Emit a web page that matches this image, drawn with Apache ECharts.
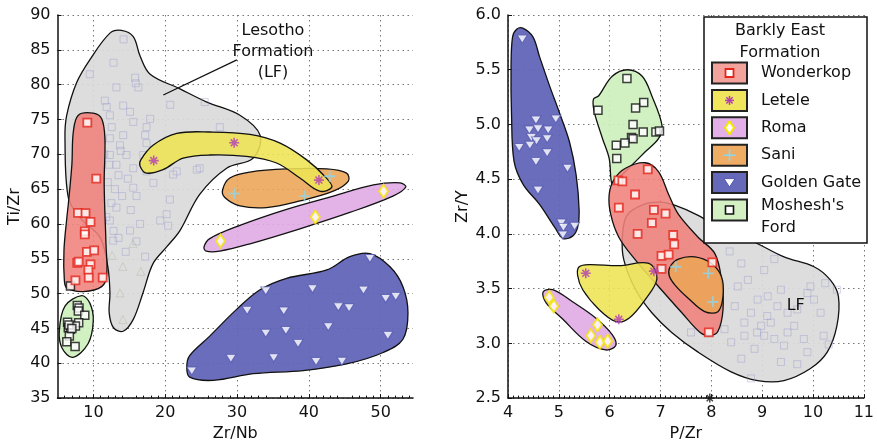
<!DOCTYPE html>
<html><head><meta charset="utf-8">
<script src="https://cdn.jsdelivr.net/npm/echarts@6/dist/echarts.min.js"></script>
<style>html,body{margin:0;padding:0;background:#fff}#c{width:877px;height:447px}</style>
</head><body><div id="c"></div>
<script>
// ---------------- DATA: left panel (Zr/Nb vs Ti/Zr) ----------------
const leftXTicks = [10, 20, 30, 40, 50];
const wonderkopL = [[9.15,74.55],[10.4,66.5],[7.85,61.6],[8.9,61.55],[9.6,60.3],[8.8,58.95],[8.8,58.5],[9.1,56.0],[10.1,56.2],[7.75,54.4],[7.95,54.6],[9.6,54.2],[9.3,53.4],[9.35,52.3],[7.5,51.9],[11.3,52.3]];
const moshL = [[6.8,51.1],[7.75,48.3],[8.0,47.95],[7.9,47.5],[8.8,46.9],[6.4,45.9],[7.95,45.8],[7.5,45.35],[6.5,45.1],[6.8,44.9],[6.65,43.9],[6.3,43.1],[7.45,42.4],[6.6,45.5],[7.0,45.0]];
const leteleL = [[18.4,69.1],[29.6,71.65],[41.4,66.3]];
const saniL = [[29.6,64.35],[39.4,64.0],[42.9,66.85]];
const romaL = [[27.7,57.55],[40.9,61.0],[50.4,64.7]];
const goldenGateL = [[23.7,38.9],[29.15,40.7],[35.1,40.8],[41.0,40.25],[44.6,40.3],[34.0,44.3],[36.8,44.7],[38.5,42.85],[42.7,45.25],[51.0,44.0],[31.4,47.6],[36.5,47.5],[44.1,48.1],[45.6,47.95],[34.0,50.4],[40.5,50.7],[47.6,50.5],[50.7,49.3],[52.1,49.6],[48.5,55.05]];
const lfPointsL = [[14.2,86.5],[12.8,83.15],[15.8,81.0],[15.9,80.2],[13.2,79.6],[16.25,79.6],[20.7,77.1],[25.5,77.5],[27.6,73.9],[11.6,77.7],[11.85,76.8],[14.15,77.0],[15.1,76.1],[12.3,75.6],[15.55,74.65],[17.9,75.1],[17.4,73.9],[12.55,73.9],[14.15,72.75],[17.2,72.75],[12.3,72.3],[13.7,71.3],[17.4,71.6],[12.3,69.9],[14.6,69.9],[16.95,69.9],[13.2,68.5],[15.55,68.0],[17.4,67.55],[21.6,67.55],[24.8,68.0],[18.35,65.9],[20.65,63.5],[20.2,61.4],[20.4,59.75],[19.3,60.5],[17.2,55.3],[12.75,57.6],[12.3,60.5],[15.1,59.05],[13.2,62.35],[15.55,65.2],[21.1,67.1],[24.4,67.8],[11.5,70],[12,66],[11,64],[12.5,63],[13,65],[11.8,61],[12.8,59],[13.5,58],[11,67],[14,64],[13.5,67],[12.2,68.5],[11.2,72],[13.8,70.5],[14.8,66.5],[15.2,62],[16,64],[16.5,60],[14.5,56],[16,57.5],[9.5,81.5]];
const lfTrianglesL = [[14.1,53.9],[13.7,50.1],[14.1,46.3],[16.6,53.2],[12.6,55.5],[15.5,57.2]];

// field outlines (data space vertices)
const lfFieldL = [[6.04,72.3],[6.28,75.6],[7.67,80.3],[9.52,83.6],[12.3,87.4],[13.9,87.8],[15.55,86.9],[16.5,84.1],[17.9,81.5],[22.05,79.4],[25.8,77.5],[30.4,75.6],[33.2,72.75],[32.25,69.45],[28.55,68.0],[24.8,64.25],[22.05,59.05],[20.2,56.7],[18.3,54.3],[16.9,50.1],[15.55,46.3],[14.15,44.6],[12.8,45.1],[12.2,47.2],[12.3,50.1],[12.0,53.9],[10.9,58.1],[8.1,60.9],[6.5,63.8]];
const wonderkopFieldL = [[7.9,75.6],[9.98,75.9],[11.15,75.1],[11.6,72.3],[11.5,65.7],[11.75,57.15],[11.85,52.7],[11.15,51.0],[8.6,50.3],[6.3,50.8],[5.95,52.0],[5.9,56.2],[6.3,60.9],[6.5,62.8],[7.0,68.5],[7.2,73.2]];
const moshFieldL = [[8.37,49.7],[9.52,48.6],[9.98,46.05],[9.25,42.8],[7.12,40.85],[5.63,42.2],[5.25,44.6],[6.04,48.2]];
const leteleFieldL = [[16.6,69.2],[18.3,71.3],[21.6,73.0],[26.2,73.2],[31.8,72.85],[36.0,71.6],[39.7,69.2],[42.2,66.85],[43.2,65.3],[41.5,64.7],[38.75,66.6],[35.5,68.75],[31.3,69.7],[26.2,69.9],[22.5,69.45],[19.7,67.8],[17.4,67.3],[16.5,68.3]];
const saniFieldL = [[28.0,64.95],[29.0,66.6],[31.8,67.45],[36.9,67.9],[42.5,67.9],[45.25,67.3],[45.5,66.15],[43.4,64.7],[38.75,63.3],[34.1,62.35],[30.4,62.6],[28.3,63.8]];
const romaFieldL = [[25.4,56.7],[26.2,57.9],[30.4,59.8],[36.9,62.1],[43.4,64.0],[49.0,65.6],[52.7,65.9],[53.5,65.3],[51.7,64.0],[45.7,61.65],[38.75,59.3],[31.8,57.15],[27.6,56.1],[25.7,56.1]];
const goldenGateFieldL = [[23.0,39.45],[23.4,38.0],[26.7,37.55],[32.25,38.5],[39.2,38.95],[45.25,39.9],[50.35,41.55],[53.1,43.45],[53.8,47.25],[53.1,51.0],[51.3,53.85],[48.5,55.75],[45.7,55.3],[42.5,53.4],[36.9,52.2],[33.2,50.55],[29.9,47.7],[26.2,43.9],[23.4,41.1]];
const lfLeaderL = [[19.73,78.52],[29.98,83.55]];
const lfLabelL = { pos: [35.0, 84.7], text: 'Lesotho\nFormation\n(LF)' };

// ---------------- DATA: right panel (P/Zr vs Zr/Y) ----------------
const wonderkopR = [[6.75,4.59],[6.17,4.49],[6.25,4.48],[6.50,4.36],[6.18,4.24],[6.87,4.22],[7.10,4.185],[6.83,4.10],[6.55,4.00],[7.25,3.99],[7.27,3.905],[7.02,3.80],[7.16,3.81],[7.02,3.68],[8.02,3.74],[7.95,3.10]];
const moshR = [[6.34,5.42],[5.77,5.13],[6.67,5.20],[6.51,5.15],[6.46,5.00],[6.66,4.93],[6.43,4.88],[6.46,4.87],[6.30,4.83],[6.13,4.81],[6.91,4.93],[6.98,4.94],[6.14,4.69]];
const leteleR = [[5.53,3.64],[6.87,3.66],[6.18,3.22]];
const saniR = [[7.30,3.70],[7.94,3.64],[8.03,3.38]];
const romaR = [[4.81,3.42],[4.90,3.34],[5.76,3.17],[5.63,3.07],[5.81,3.01],[5.96,3.02]];
const goldenGateR = [[4.28,5.78],[4.55,5.04],[4.94,5.05],[4.42,4.95],[4.59,4.96],[4.79,4.95],[4.46,4.88],[4.56,4.85],[4.77,4.87],[4.22,4.79],[4.43,4.81],[4.77,4.74],[4.55,4.66],[5.17,4.60],[4.59,4.40],[5.05,4.10],[5.09,4.06],[5.08,3.99],[5.31,4.07]];
const lfPointsR = [[8.36,3.84],[8.59,3.73],[9.04,3.67],[9.24,3.77],[9.37,3.49],[9.95,3.52],[10.24,3.55],[10.47,3.49],[10.15,3.28],[10.21,3.07],[10.31,2.99],[9.89,2.92],[9.69,2.81],[9.37,2.83],[8.78,2.68],[8.59,2.86],[8.39,3.01],[8.26,3.13],[8.46,3.34],[8.78,3.28],[8.98,3.16],[9.17,3.19],[9.04,3.07],[9.24,3.04],[9.5,3.10],[9.63,3.16],[9.82,3.04],[9.43,2.98],[8.85,2.95],[8.65,3.07],[8.91,3.40],[9.11,3.43],[9.30,3.34],[9.5,3.28],[9.69,3.31],[8.65,3.19],[8.52,3.52],[8.72,3.58],[9.89,3.46],[10.02,3.40],[7.5,3.9],[7.8,3.3],[7.6,3.1],[8.1,3.2],[9.1,3.25],[8.9,3.1]];
const offScaleR = [[7.97,2.5]];
const lfFieldR = [[7.29,4.26],[7.74,4.17],[8.26,4.03],[8.78,3.94],[9.43,3.79],[10.02,3.70],[10.34,3.58],[10.50,3.43],[10.47,3.16],[10.28,2.92],[9.95,2.77],[9.43,2.66],[8.91,2.66],[8.39,2.74],[7.74,2.92],[7.22,3.10],[6.83,3.28],[6.51,3.49],[6.28,3.76],[6.25,3.97],[6.34,4.17],[6.67,4.27],[7.00,4.29]];
const wonderkopFieldR = [[5.99,4.36],[6.09,4.50],[6.31,4.60],[6.70,4.65],[6.96,4.57],[7.16,4.36],[7.35,4.18],[7.74,3.97],[8.07,3.82],[8.20,3.58],[8.23,3.31],[8.13,3.11],[7.97,3.07],[7.78,3.10],[7.42,3.28],[6.96,3.52],[6.51,3.76],[6.18,3.97],[6.02,4.18]];
const moshFieldR = [[5.78,5.26],[6.05,5.44],[6.35,5.50],[6.64,5.44],[6.83,5.26],[7.03,4.99],[6.96,4.87],[6.70,4.75],[6.44,4.63],[6.18,4.51],[6.05,4.45],[5.99,4.69],[5.86,4.87],[5.70,5.11],[5.68,5.23]];
const leteleFieldR = [[5.40,3.70],[5.60,3.72],[6.18,3.71],[6.77,3.73],[6.93,3.59],[6.70,3.40],[6.38,3.23],[6.12,3.20],[5.79,3.31],[5.47,3.49],[5.37,3.62]];
const saniFieldR = [[7.19,3.70],[7.35,3.77],[7.68,3.79],[8.00,3.73],[8.20,3.61],[8.23,3.43],[8.13,3.29],[7.87,3.29],[7.55,3.41],[7.29,3.53],[7.17,3.62]];
const romaFieldR = [[4.69,3.47],[4.88,3.49],[5.27,3.38],[5.73,3.23],[6.05,3.08],[6.12,2.98],[5.92,2.94],[5.53,3.02],[5.08,3.22],[4.75,3.37]];
const goldenGateFieldR = [[4.29,5.88],[4.49,5.80],[4.62,5.62],[4.82,5.35],[5.01,5.11],[5.21,4.84],[5.34,4.54],[5.40,4.21],[5.37,4.06],[5.27,3.98],[5.08,3.96],[4.92,4.06],[4.62,4.27],[4.30,4.45],[4.12,4.66],[4.07,5.08],[4.06,5.53],[4.09,5.80],[4.17,5.87]];
const lfLabelR = { pos: [9.66, 3.34], text: 'LF' };

const legendTitle = 'Barkly East\nFormation';
const legendNames = ['Wonderkop', 'Letele', 'Roma', 'Sani', 'Golden Gate', "Moshesh's\nFord"];

// ---------------- STYLE ----------------
const FONT = 'DejaVu Sans';
const INK = '#111';
const C = {
  lf: 'rgba(218,218,218,0.92)',
  wonderkop: 'rgba(240,130,124,0.88)',
  letele: 'rgba(238,228,84,0.88)',
  roma: 'rgba(224,170,228,0.9)',
  sani: 'rgba(236,164,86,0.88)',
  gg: 'rgba(98,101,184,0.95)',
  mosh: 'rgba(206,240,190,0.92)'
};
const SOLID = { wonderkop:'#f4a29c', letele:'#f0e65e', roma:'#e2b0e6', sani:'#eeac64', gg:'#6669b9', mosh:'#d2f0c2' };
const RED = '#e3261b', MAG = '#b13fb3', YEL = '#f5e600', CYAN = '#8fd6ea', BLUE = '#5458b0';
const ASTER = 'path://M0,4.2L10,4.2L10,5.8L0,5.8Z M4.2,0L5.8,0L5.8,10L4.2,10Z M1.0,2.1L2.1,1.0L9.0,7.9L7.9,9.0Z M7.9,1.0L9.0,2.1L2.1,9.0L1.0,7.9Z';
const PLUS = 'path://M4.2,0L5.8,0L5.8,4.2L10,4.2L10,5.8L5.8,5.8L5.8,10L4.2,10L4.2,5.8L0,5.8L0,4.2L4.2,4.2Z';

function field(verts, fill, gi, z) {
  return {
    type: 'custom', coordinateSystem: 'cartesian2d', xAxisIndex: gi, yAxisIndex: gi,
    data: verts, z: z, silent: true, clip: true,
    renderItem: function (params, api) {
      if (params.dataIndex !== 0) return null;
      const pts = verts.map(v => api.coord(v));
      return { type: 'polygon', shape: { points: pts, smooth: 0.35 },
        style: { fill: fill, stroke: INK, lineWidth: 1.3 } };
    }
  };
}
function pts(data, gi, sym, size, style, extra) {
  return Object.assign({
    type: 'scatter', xAxisIndex: gi, yAxisIndex: gi, data: data, symbol: sym, symbolSize: size,
    itemStyle: style, z: 5, silent: true
  }, extra || {});
}
function label(obj, gi, lh) {
  return {
    type: 'custom', coordinateSystem: 'cartesian2d', xAxisIndex: gi, yAxisIndex: gi,
    data: [obj.pos], z: 6, silent: true, clip: false,
    renderItem: function (params, api) {
      const p = api.coord(obj.pos);
      return { type: 'text', x: p[0], y: p[1], style: { text: obj.text, textAlign: 'center', textVerticalAlign: 'middle',
        fontFamily: FONT, fontSize: 16, fill: INK, lineHeight: lh } };
    }
  };
}
function leader(verts, gi) {
  return {
    type: 'custom', coordinateSystem: 'cartesian2d', xAxisIndex: gi, yAxisIndex: gi,
    data: verts, z: 6, silent: true,
    renderItem: function (params, api) {
      if (params.dataIndex !== 0) return null;
      const a = api.coord(verts[0]), b = api.coord(verts[1]);
      return { type: 'line', shape: { x1: a[0], y1: a[1], x2: b[0], y2: b[1] }, style: { stroke: INK, lineWidth: 1.3 } };
    }
  };
}

const sqRed = { color: '#fff', borderColor: RED, borderWidth: 1.8 };
const sqBlk = { color: '#fff', borderColor: INK, borderWidth: 1.5 };
const dia = { color: '#fff', borderColor: YEL, borderWidth: 2 };
const tri = { color: '#fff', borderColor: BLUE, borderWidth: 1 };
const lfSq = { color: 'rgba(0,0,0,0)', borderColor: 'rgba(140,140,205,0.45)', borderWidth: 1 };
const lfTri = { color: 'rgba(0,0,0,0)', borderColor: 'rgba(150,165,120,0.35)', borderWidth: 1 };

const axText = { fontFamily: FONT, fontSize: 16, color: INK };
const split = { show: true, lineStyle: { type: [1.5, 3.5], color: '#777', width: 1 } };
const aLine = { show: true, onZero: false, lineStyle: { color: INK, width: 1.5 } };
const aTick = { show: true, inside: true, length: 4, lineStyle: { color: INK } };

// ---------------- LEGEND (graphic) ----------------
const LG = { x: 704, y: 17, w: 163, h: 226, swX: 712, swW: 35, swH: 21, y0: 73, dy: 27.4, tx: 761 };
const graphics = [
  { type: 'rect', shape: { x: LG.x, y: LG.y, width: LG.w, height: LG.h }, style: { fill: '#fff', stroke: INK, lineWidth: 1.5 }, z: 100 },
  { type: 'text', x: 780, y: 20, style: { text: legendTitle, textAlign: 'center', textVerticalAlign: 'top', fontFamily: FONT, fontSize: 16, fill: INK, lineHeight: 22 }, z: 101 }
];
const swFill = [SOLID.wonderkop, SOLID.letele, SOLID.roma, SOLID.sani, SOLID.gg, SOLID.mosh];
legendNames.forEach((nm, i) => {
  const cy = LG.y0 + i * LG.dy, cx = LG.swX + LG.swW / 2;
  graphics.push({ type: 'rect', shape: { x: LG.swX, y: cy - LG.swH / 2, width: LG.swW, height: LG.swH }, style: { fill: swFill[i], stroke: '#222', lineWidth: 2 }, z: 101 });
  let sym;
  if (i === 0) sym = [{ type: 'rect', shape: { x: cx - 4, y: cy - 4, width: 8, height: 8 }, style: { fill: '#fff', stroke: RED, lineWidth: 1.8 } }];
  if (i === 1) sym = [0, 45, 90, 135].map(a => { const r = a * Math.PI / 180, d = 4.5; return { type: 'line', shape: { x1: cx - d * Math.cos(r), y1: cy - d * Math.sin(r), x2: cx + d * Math.cos(r), y2: cy + d * Math.sin(r) }, style: { stroke: MAG, lineWidth: 1.5 } }; });
  if (i === 2) sym = [{ type: 'polygon', shape: { points: [[cx, cy - 6.5], [cx + 4.5, cy], [cx, cy + 6.5], [cx - 4.5, cy]] }, style: { fill: '#fff', stroke: YEL, lineWidth: 2 } }];
  if (i === 3) sym = [{ type: 'line', shape: { x1: cx - 6, y1: cy, x2: cx + 6, y2: cy }, style: { stroke: CYAN, lineWidth: 1.6 } }, { type: 'line', shape: { x1: cx, y1: cy - 6, x2: cx, y2: cy + 6 }, style: { stroke: CYAN, lineWidth: 1.6 } }];
  if (i === 4) sym = [{ type: 'polygon', shape: { points: [[cx - 5.5, cy - 4], [cx + 5.5, cy - 4], [cx, cy + 4.5]] }, style: { fill: '#fff', stroke: BLUE, lineWidth: 1 } }];
  if (i === 5) sym = [{ type: 'rect', shape: { x: cx - 4, y: cy - 4, width: 8, height: 8 }, style: { fill: '#fff', stroke: INK, lineWidth: 1.6 } }];
  sym.forEach(s => { s.z = 102; graphics.push(s); });
  if (i === 5) {
    graphics.push({ type: 'text', x: LG.tx, y: cy - 15, style: { text: nm, textAlign: 'left', textVerticalAlign: 'top', fontFamily: FONT, fontSize: 16, fill: INK, lineHeight: 22 }, z: 101 });
  } else {
    graphics.push({ type: 'text', x: LG.tx, y: cy, style: { text: nm, textAlign: 'left', textVerticalAlign: 'middle', fontFamily: FONT, fontSize: 16, fill: INK }, z: 101 });
  }
});

const option = {
  animation: false,
  backgroundColor: '#fff',
  textStyle: { fontFamily: FONT },
  grid: [
    { left: 57.5, right: 464, top: 15, bottom: 44 },
    { left: 508, right: 10, top: 15, bottom: 44 }
  ],
  xAxis: [
    { gridIndex: 0, type: 'value', min: 5, max: 54.5, interval: 10, name: 'Zr/Nb', nameLocation: 'middle', nameGap: 25, nameTextStyle: axText,
      axisLine: aLine, axisTick: Object.assign({ customValues: leftXTicks }, aTick),
      minorTick: { show: true, splitNumber: 10, length: 2.5, lineStyle: { color: INK } },
      axisLabel: Object.assign({ customValues: leftXTicks, margin: 7 }, axText), splitLine: split },
    { gridIndex: 1, type: 'value', min: 4, max: 11, interval: 1, name: 'P/Zr', nameLocation: 'middle', nameGap: 25, nameTextStyle: axText,
      axisLine: aLine, axisTick: aTick,
      minorTick: { show: true, splitNumber: 10, length: 2.5, lineStyle: { color: INK } },
      axisLabel: Object.assign({ margin: 7 }, axText), splitLine: split }
  ],
  yAxis: [
    { gridIndex: 0, type: 'value', min: 35, max: 90, interval: 5, name: 'Ti/Zr', nameLocation: 'middle', nameGap: 35, nameRotate: 90, nameTextStyle: axText,
      axisLine: aLine, axisTick: aTick, axisLabel: Object.assign({ margin: 7 }, axText), splitLine: split },
    { gridIndex: 1, type: 'value', min: 2.5, max: 6, interval: 0.5, name: 'Zr/Y', nameLocation: 'middle', nameGap: 37, nameRotate: 90, nameTextStyle: axText,
      axisLine: aLine, axisTick: aTick, axisLabel: Object.assign({ margin: 7, formatter: v => v.toFixed(1) }, axText), splitLine: split }
  ],
  graphic: graphics,
  series: [
    // left panel fields
    field(lfFieldL, C.lf, 0, 1),
    pts(lfPointsL, 0, 'rect', 7, lfSq, { z: 1 }),
    pts(lfTrianglesL, 0, 'triangle', 8, lfTri, { z: 1 }),
    field(goldenGateFieldL, C.gg, 0, 2),
    field(moshFieldL, C.mosh, 0, 2),
    field(wonderkopFieldL, C.wonderkop, 0, 2),
    field(saniFieldL, C.sani, 0, 2),
    field(romaFieldL, C.roma, 0, 2),
    field(leteleFieldL, C.letele, 0, 2),
    leader(lfLeaderL, 0),
    label(lfLabelL, 0, 21),
    // left panel points
    pts(goldenGateL, 0, 'triangle', [10, 8], tri, { symbolRotate: 180 }),
    pts(moshL, 0, 'rect', 8, sqBlk),
    pts(wonderkopL, 0, 'rect', 8, sqRed),
    pts(saniL, 0, PLUS, 11, { color: CYAN }),
    pts(romaL, 0, 'diamond', [9, 13], dia),
    pts(leteleL, 0, ASTER, 10, { color: MAG }),
    // right panel fields
    field(lfFieldR, C.lf, 1, 1),
    pts(lfPointsR, 1, 'rect', 7, lfSq, { z: 1 }),
    field(goldenGateFieldR, C.gg, 1, 2),
    field(moshFieldR, C.mosh, 1, 2),
    field(wonderkopFieldR, C.wonderkop, 1, 2),
    field(saniFieldR, C.sani, 1, 2),
    field(romaFieldR, C.roma, 1, 2),
    field(leteleFieldR, C.letele, 1, 2),
    label(lfLabelR, 1, 20),
    // right panel points
    pts(goldenGateR, 1, 'triangle', [10, 8], tri, { symbolRotate: 180 }),
    pts(moshR, 1, 'rect', 8, sqBlk),
    pts(wonderkopR, 1, 'rect', 8, sqRed),
    pts(saniR, 1, PLUS, 11, { color: CYAN }),
    pts(romaR, 1, 'diamond', [9, 13], dia),
    pts(leteleR, 1, ASTER, 10, { color: MAG }),
    pts(offScaleR, 1, ASTER, 9, { color: INK }, { clip: false })
  ]
};
const chart = echarts.init(document.getElementById('c'), null, { renderer: 'canvas' });
chart.setOption(option);
</script></body></html>
